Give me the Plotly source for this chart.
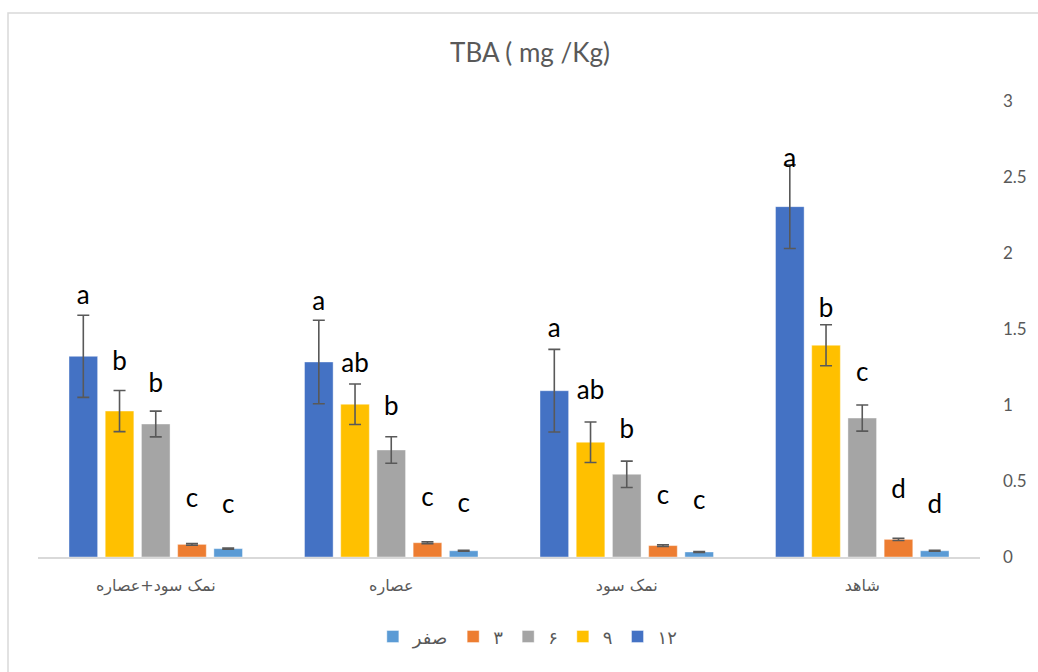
import plotly.graph_objects as go

# ---- data ----
categories = ["شاهد", "نمک سود", "عصاره", "نمک سود+عصاره"]
series_names = ["صفر", "۳", "۶", "۹", "۱۲"]
series_colors = ["#5B9BD5", "#ED7D31", "#A5A5A5", "#FFC000", "#4472C4"]

vals_0 = [0.041, 0.033, 0.041, 0.055]
vals_3 = [0.116, 0.075, 0.094, 0.083]
vals_6 = [0.914, 0.544, 0.704, 0.875]
vals_9 = [1.393, 0.755, 1.005, 0.960]
vals_12 = [2.305, 1.094, 1.283, 1.320]

err_0 = [0.003, 0.003, 0.003, 0.004]
err_3 = [0.007, 0.006, 0.006, 0.006]
err_6 = [0.086, 0.087, 0.087, 0.085]
err_9 = [0.135, 0.133, 0.133, 0.135]
err_12 = [0.275, 0.272, 0.275, 0.270]

letters_0 = ["d", "c", "c", "c"]
letters_3 = ["d", "c", "c", "c"]
letters_6 = ["c", "b", "b", "b"]
letters_9 = ["b", "ab", "ab", "b"]
letters_12 = ["a", "a", "a", "a"]

# heights (in data units) where the significance letters sit
letter_h_0 = [0.335, 0.357, 0.34, 0.335]
letter_h_3 = [0.43, 0.39, 0.38, 0.375]
letter_h_6 = [1.20, 0.825, 0.98, 1.13]
letter_h_9 = [1.625, 1.08, 1.26, 1.276]
letter_h_12 = [2.61, 1.49, 1.67, 1.71]

y_ticks = [0, 0.5, 1, 1.5, 2, 2.5, 3]

all_vals = [vals_0, vals_3, vals_6, vals_9, vals_12]
all_errs = [err_0, err_3, err_6, err_9, err_12]
all_letters = [letters_0, letters_3, letters_6, letters_9, letters_12]
all_letter_h = [letter_h_0, letter_h_3, letter_h_6, letter_h_9, letter_h_12]

LATIN = "Lato, 'Open Sans', sans-serif"
ARABIC = "'DejaVu Sans', sans-serif"

fig = go.Figure()
for i, name in enumerate(series_names):
    fig.add_trace(go.Bar(
        x=categories, y=all_vals[i], name=name,
        offsetgroup=str(i),
        marker=dict(color=series_colors[i], line=dict(color="rgba(255,255,255,0.5)", width=0.8)),
        error_y=dict(type="data", array=all_errs[i], visible=True,
                     color="#595959", thickness=1.6, width=6),
        hoverinfo="skip",
    ))
for i, name in enumerate(series_names):
    fig.add_trace(go.Scatter(
        x=categories, y=all_letter_h[i], mode="text",
        text=all_letters[i], textposition="middle center",
        textfont=dict(family=LATIN, size=26, color="#000000"),
        offsetgroup=str(i), showlegend=False, hoverinfo="skip",
    ))

fig.update_layout(
    width=1038, height=672,
    paper_bgcolor="white", plot_bgcolor="white",
    margin=dict(l=38, r=58, t=101, b=115),
    barmode="group", bargap=0.231, bargroupgap=0.21,
    scattermode="group", scattergap=0.231,
    title=dict(text="TBA ( mg /Kg)", x=530 / 1038, xanchor="center",
               y=1 - 53 / 672, yanchor="middle",
               font=dict(family=LATIN, size=26, color="#595959")),
    legend=dict(orientation="h", x=0.52, xanchor="center", y=-0.175, yanchor="middle",
                font=dict(family=ARABIC, size=18, color="#595959"),
                traceorder="normal", itemwidth=30),
    showlegend=True,
    shapes=[dict(type="rect", xref="paper", yref="paper",
                 x0=(8 - 38) / 942, x1=1.2, y0=-0.5, y1=(557 - 13) / 456,
                 line=dict(color="#D9D9D9", width=1.5), fillcolor="rgba(0,0,0,0)",
                 layer="below")],
)
fig.update_xaxes(
    autorange="reversed", showgrid=False, zeroline=False,
    showline=True, linecolor="#D9D9D9", linewidth=1.5,
    ticks="", ticklabelstandoff=13,
    tickfont=dict(family=ARABIC, size=16, color="#595959"),
)
fig.update_yaxes(
    side="right", range=[0, 3], tickvals=y_ticks,
    ticktext=[f"{t:g}" for t in y_ticks],
    showgrid=False, zeroline=False, showline=False,
    ticks="", ticklabelstandoff=22,
    tickfont=dict(family=LATIN, size=17, color="#595959"),
)

fig.write_html(
    "out.html",
    config={"displayModeBar": False},
    post_script="document.body.style.margin='0';document.body.style.overflow='hidden';",
)
